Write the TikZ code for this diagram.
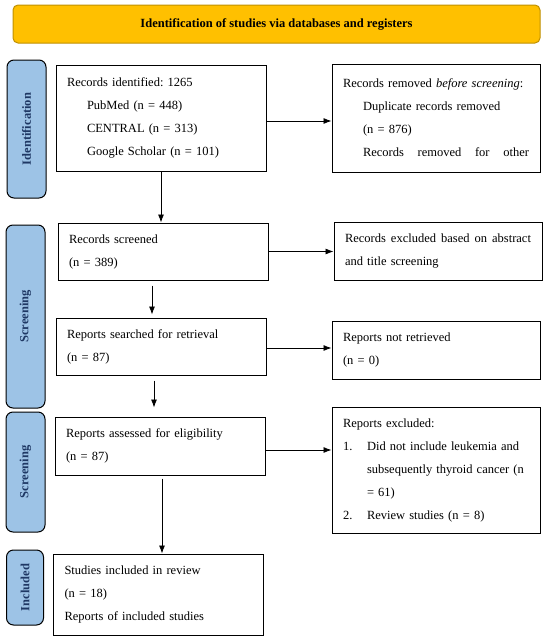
\documentclass[tikz,border=0pt]{standalone}
\usepackage{fontspec}
\setmainfont{Liberation Serif}
\usepackage{tikz}
\usetikzlibrary{shapes,arrows,arrows.meta}
\frenchspacing
\definecolor{bannerfill}{HTML}{FFC000}
\definecolor{banneredge}{HTML}{BF9000}
\definecolor{phasefill}{HTML}{9DC3E6}
\definecolor{phasetext}{HTML}{1F3864}
\tikzstyle{block} = [rectangle, draw, line width=1pt, text width=188pt,
    inner xsep=11pt, inner ysep=0pt, align=left, font=\fontsize{12.5}{23}\selectfont]
\tikzstyle{outblock} = [block, text width=186pt]
\tikzstyle{phase} = [rectangle, draw=black, fill=phasefill, line width=1pt, rounded corners=7pt,
    rotate=90, minimum height=39pt, inner sep=0pt, text=phasetext, font=\fontsize{12.5}{15}\selectfont\bfseries]
\tikzstyle{banner} = [rectangle, draw=banneredge, fill=bannerfill, line width=1pt, rounded corners=5pt,
    minimum width=527pt, minimum height=38pt, font=\fontsize{12.5}{15}\selectfont\bfseries]
\tikzstyle{line} = [draw, line width=0.8pt, -{Latex[length=8pt,width=6pt]}]
\newcommand{\subline}{\hspace*{20pt}}
\newcommand{\numitem}[1]{\makebox[24pt][l]{#1}}

\begin{document}
\begin{tikzpicture}[x=1pt, y=1pt, node distance=133.5pt]
    \useasboundingbox (0,0) rectangle (550,-640);
    % Place nodes
    \node [banner] (head) at (276.5,-24) {Identification of studies via databases and registers};
    \node [block, minimum height=106pt] (ident) at (161,-118) {Records identified: 1265\\
        \subline PubMed (n = 448)\\
        \subline CENTRAL (n = 313)\\
        \subline Google Scholar (n = 101)};
    \node [outblock, right of=ident, node distance=275pt, minimum height=108pt] (removed) {Records removed \emph{before screening}:\\
        \subline Duplicate records removed\\
        \subline (n = 876)\\
        \subline\makebox[166pt][l]{Records\hfill removed\hfill for\hfill other}};
    \node [block, below of=ident, xshift=2pt, minimum height=57pt] (screened) {Records screened\\(n = 389)};
    \node [outblock, right of=screened, node distance=275pt, minimum height=58pt] (excluded) {\makebox[186pt][l]{Records\hfill excluded\hfill based\hfill on\hfill abstract}\\and title screening};
    \node [block, below of=screened, node distance=95pt, xshift=-2pt, minimum height=57pt] (searched) {Reports searched for retrieval\\(n = 87)};
    \node [outblock, right of=searched, node distance=275pt, yshift=-3.5pt, minimum height=58pt] (notretr) {Reports not retrieved\\(n = 0)};
    \node [block, below of=searched, node distance=99.5pt, xshift=-1pt, minimum height=58pt] (assessed) {Reports assessed for eligibility\\(n = 87)};
    \node [outblock, right of=assessed, node distance=276pt, yshift=-24pt, minimum height=126pt] (repexcl) {Reports excluded:\\
        \numitem{1.}Did not include leukemia and\\
        \hspace*{24pt}subsequently thyroid cancer (n\\
        \hspace*{24pt}= 61)\\
        \numitem{2.}Review studies (n = 8)};
    \node [block, below of=assessed, node distance=148.5pt, xshift=-1.5pt, minimum height=81pt] (included) {Studies included in review\\(n = 18)\\Reports of included studies};
    % Phase labels
    \node [phase, minimum width=138pt] (idphase) at (26.5,-129) {Identification};
    \node [phase, minimum width=183pt] (scrphase) at (25.5,-316.5) {Screening};
    \node [phase, minimum width=120pt] (eligphase) at (25.5,-472) {Screening};
    \node [phase, minimum width=75pt, minimum height=37pt] (incphase) at (25,-587.5) {Included};
    % Draw edges
    \path [line] ([yshift=-3pt]ident.east) -- ([yshift=-3pt]ident.east -| removed.west);
    \path [line] (ident.south) -- (ident.south |- screened.north);
    \path [line] (screened.east) -- (screened.east -| excluded.west);
    \path [line] ([xshift=-11pt,yshift=-5pt]screened.south) -- ([xshift=-9pt,yshift=3pt]searched.north);
    \path [line] ([yshift=-1.5pt]searched.east) -- ([yshift=-1.5pt]searched.east -| notretr.west);
    \path [line] ([xshift=-7pt,yshift=-5pt]searched.south) -- ([xshift=-6pt,yshift=9pt]assessed.north);
    \path [line] ([yshift=-4pt]assessed.east) -- ([yshift=-4pt]assessed.east -| repexcl.west);
    \path [line] ([xshift=2pt,yshift=-3pt]assessed.south) -- ([xshift=3.5pt]included.north);
\end{tikzpicture}
\end{document}
